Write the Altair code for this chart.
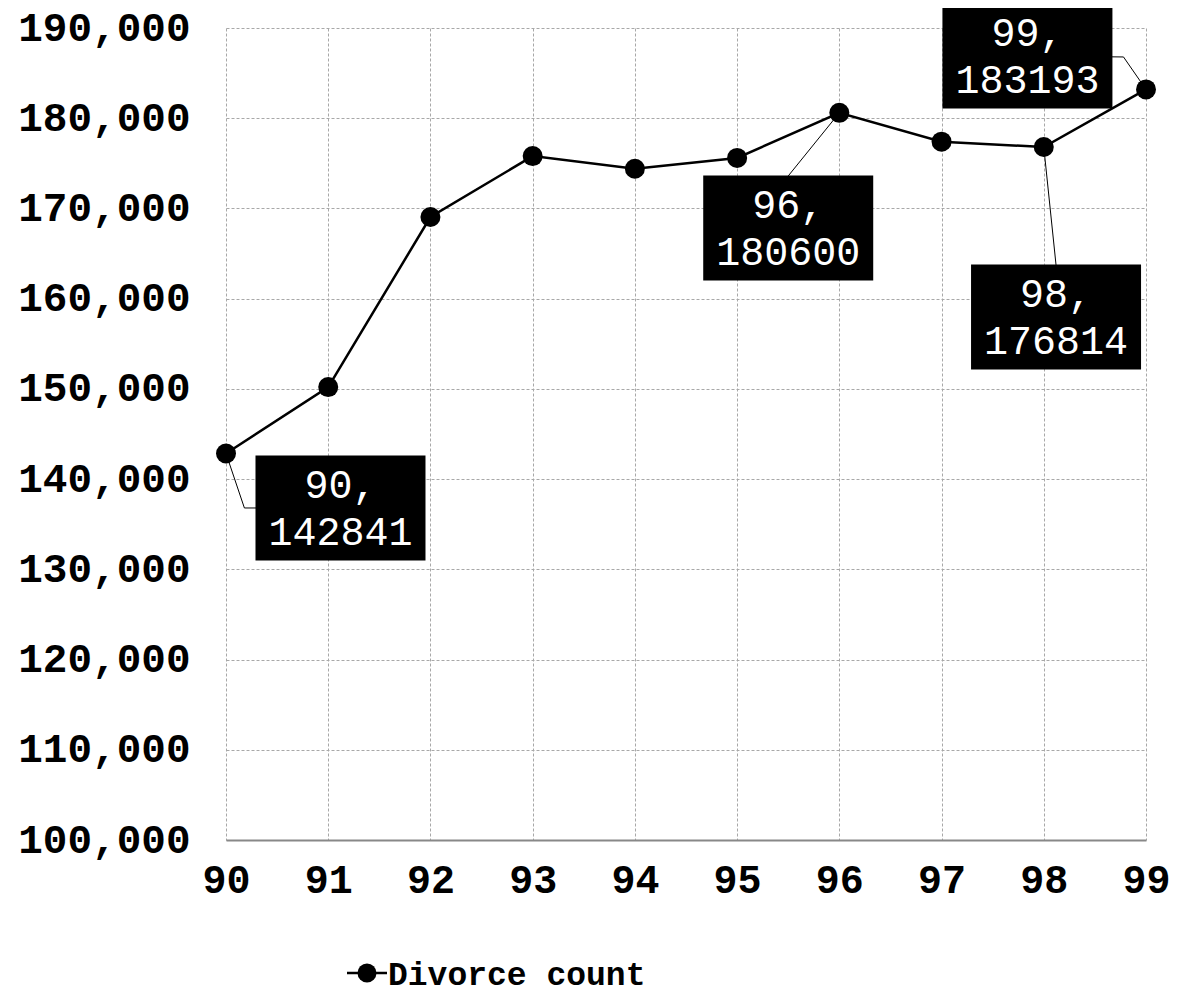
import altair as alt
import pandas as pd

# ---- data ----
years = [90, 91, 92, 93, 94, 95, 96, 97, 98, 99]
counts = [142841, 150200, 169050, 175800, 174400, 175600, 180600, 177400, 176814, 183193]
y_ticks = [100000, 110000, 120000, 130000, 140000, 150000, 160000, 170000, 180000, 190000]

label_years = [90, 96, 98, 99]
label_values = [142841, 180600, 176814, 183193]
label_box_x = [91.12, 95.50, 98.12, 97.84]
label_box_y = [136800, 167830, 157970, 186900]
label_elbow_x = [90.18, 95.50, 98.12, 98.78]
label_elbow_y = [136800, 173600, 163730, 186790]
series_name = "Divorce count"

df = pd.DataFrame({"year": years, "count": counts})

lab = pd.DataFrame({
    "year": label_years,
    "value": label_values,
    "bx": label_box_x,
    "by": label_box_y,
})
lab["text"] = [f"{y},\n{v}" for y, v in zip(label_years, label_values)]

leader_rows = []
for i, (yr, v) in enumerate(zip(label_years, label_values)):
    leader_rows.append({"id": i, "o": 0, "x": yr, "y": v})
    leader_rows.append({"id": i, "o": 1, "x": label_elbow_x[i], "y": label_elbow_y[i]})
    leader_rows.append({"id": i, "o": 2, "x": label_box_x[i], "y": label_box_y[i]})
leaders = pd.DataFrame(leader_rows)

FONT = "Liberation Mono"

xscale = alt.Scale(domain=[90, 99], nice=False, zero=False)
yscale = alt.Scale(domain=[100000, 190000], nice=False, zero=False)

xaxis = alt.Axis(values=years, labelExpr="format(datum.value, 'd')", title=None,
                 labelFont=FONT, labelFontSize=40, labelFlush=False,
                 labelFontWeight="bold", labelColor="#000", labelPadding=20,
                 ticks=False, domain=True, domainColor="#888", domainWidth=2,
                 grid=True, gridColor="#a8a8a8", gridDash=[3, 2], gridWidth=1)
yaxis = alt.Axis(values=y_ticks, labelExpr="format(datum.value, ',')", title=None,
                 labelFont=FONT, labelFontSize=41, labelFlush=False,
                 labelFontWeight="bold", labelColor="#000", labelPadding=36,
                 ticks=False, domain=False,
                 grid=True, gridColor="#a8a8a8", gridDash=[3, 2], gridWidth=1)

X = alt.X("year:Q", scale=xscale, axis=xaxis)
Y = alt.Y("count:Q", scale=yscale, axis=yaxis)

line = alt.Chart(df).mark_line(color="#000", strokeWidth=2.5).encode(x=X, y=Y)
pts = alt.Chart(df).mark_point(filled=True, shape="circle", size=400, color="#000", opacity=1).encode(x=X, y=Y)

lead = alt.Chart(leaders).mark_line(color="#000", strokeWidth=1).encode(
    x=alt.X("x:Q", scale=xscale, axis=xaxis),
    y=alt.Y("y:Q", scale=yscale, axis=yaxis),
    detail="id:N",
    order="o:Q",
)

boxes = alt.Chart(lab).mark_rect(color="#000", width=170, height=105).encode(
    x=alt.X("bx:Q", scale=xscale, axis=xaxis),
    y=alt.Y("by:Q", scale=yscale, axis=yaxis),
)
box_text = alt.Chart(lab).mark_text(font=FONT, fontSize=40, color="#fff", lineBreak="\n",
                                    lineHeight=47, align="center", baseline="middle", dy=-22).encode(
    x=alt.X("bx:Q", scale=xscale, axis=xaxis),
    y=alt.Y("by:Q", scale=yscale, axis=yaxis),
    text="text:N",
)

leg_df = pd.DataFrame({"name": [series_name]})
leg_line = alt.Chart(leg_df).mark_rule(color="#000", strokeWidth=2.5).encode(
    x=alt.value(121), x2=alt.value(161), y=alt.value(945)
)
leg_pt = alt.Chart(leg_df).mark_point(filled=True, shape="circle", size=360, color="#000", opacity=1).encode(
    x=alt.value(141), y=alt.value(945)
)
leg_text = alt.Chart(leg_df).mark_text(font=FONT, fontSize=33, fontWeight="bold", color="#000",
                                       align="left", baseline="middle").encode(
    x=alt.value(162), y=alt.value(947), text="name:N"
)

chart = alt.layer(line, lead, pts, boxes, box_text, leg_line, leg_pt, leg_text).properties(
    width=920, height=812,
    autosize=alt.AutoSizeParams(type="none"),
    padding={"left": 218, "top": 20, "right": 24, "bottom": 156},
).configure_view(stroke=None)

chart.save("out.html", embed_options={"renderer": "svg", "actions": False})
